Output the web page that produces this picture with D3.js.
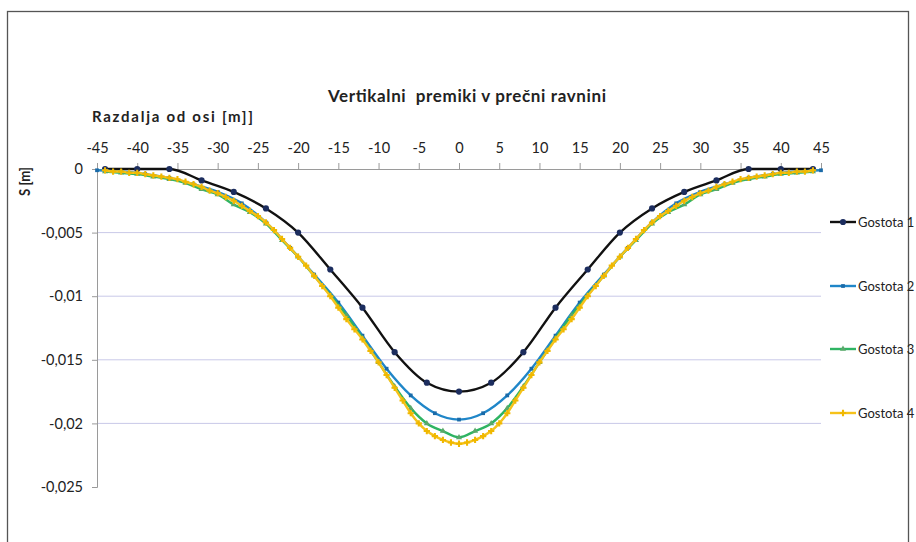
<!DOCTYPE html>
<html><head><meta charset="utf-8">
<script src="https://cdn.jsdelivr.net/npm/d3@7"></script>
<style>
html,body{margin:0;padding:0;background:#fff;overflow:hidden}
svg{display:block}
text{font-family:Lato,"Open Sans",sans-serif;fill:#222}
</style></head>
<body>
<svg id="c" width="916" height="542"></svg>
<script>
const title = "Vertikalni  premiki v prečni ravnini";
const xTitle = "Razdalja od osi [m]]";
const yTitle = "S [m]";
const xTicks = [-45,-40,-35,-30,-25,-20,-15,-10,-5,0,5,10,15,20,25,30,35,40,45];
const yTicks = [0,-0.005,-0.01,-0.015,-0.02,-0.025];
const yTickLabels = ["0","-0,005","-0,01","-0,015","-0,02","-0,025"];
const seriesNames = ["Gostota 1","Gostota 2","Gostota 3","Gostota 4"];

// Gostota 1: every 4 m
const x1 = [-44,-40,-36,-32,-28,-24,-20,-16,-12,-8,-4,0,4,8,12,16,20,24,28,32,36,40,44];
const s1 = [0,0,0,-0.0009,-0.0018,-0.0031,-0.005,-0.0079,-0.0109,-0.0144,-0.0168,-0.0175,
            -0.0168,-0.0144,-0.0109,-0.0079,-0.005,-0.0031,-0.0018,-0.0009,0,0,0];
// Gostota 2: every 3 m
const x2 = [-45,-42,-39,-36,-33,-30,-27,-24,-21,-18,-15,-12,-9,-6,-3,0,3,6,9,12,15,18,21,24,27,30,33,36,39,42,45];
const s2 = [-0.0001,-0.0002,-0.0004,-0.0007,-0.0012,-0.0018,-0.0027,-0.0042,-0.0062,-0.0083,-0.0105,-0.0131,-0.0157,-0.0178,-0.0192,-0.0197,
            -0.0192,-0.0178,-0.0157,-0.0131,-0.0105,-0.0083,-0.0062,-0.0042,-0.0027,-0.0018,-0.0012,-0.0007,-0.0004,-0.0002,-0.0001];
// Gostota 3: every 2 m
const x3 = [-44,-42,-40,-38,-36,-34,-32,-30,-28,-26,-24,-22,-20,-18,-16,-14,-12,-10,-8,-6,-4,-2,0,
            2,4,6,8,10,12,14,16,18,20,22,24,26,28,30,32,34,36,38,40,42,44];
const s3 = [-0.0002,-0.0003,-0.0004,-0.0006,-0.0008,-0.0011,-0.0016,-0.002,-0.0028,-0.0034,-0.0043,-0.0056,-0.0069,-0.0084,-0.0099,-0.0115,-0.0133,-0.0152,-0.0171,-0.0188,-0.02,-0.0206,-0.0211,
            -0.0206,-0.02,-0.0188,-0.0171,-0.0152,-0.0133,-0.0115,-0.0099,-0.0084,-0.0069,-0.0056,-0.0043,-0.0034,-0.0028,-0.002,-0.0016,-0.0011,-0.0008,-0.0006,-0.0004,-0.0003,-0.0002];
// Gostota 4: every 1 m
const x4 = [-44,-43,-42,-41,-40,-39,-38,-37,-36,-35,-34,-33,-32,-31,-30,-29,-28,-27,-26,-25,-24,-23,-22,-21,-20,-19,-18,-17,-16,-15,-14,-13,-12,-11,-10,-9,-8,-7,-6,-5,-4,-3,-2,-1,0,
            1,2,3,4,5,6,7,8,9,10,11,12,13,14,15,16,17,18,19,20,21,22,23,24,25,26,27,28,29,30,31,32,33,34,35,36,37,38,39,40,41,42,43,44];
const s4 = [-0.0001,-0.0002,-0.0002,-0.0003,-0.0003,-0.0004,-0.0005,-0.0006,-0.0007,-0.0008,-0.001,-0.0012,-0.0014,-0.0017,-0.0019,-0.0022,-0.0025,-0.0029,-0.0033,-0.0037,-0.0042,-0.0048,-0.0055,-0.0062,-0.0069,-0.0076,-0.0084,-0.0092,-0.01,-0.0109,-0.0118,-0.0126,-0.0134,-0.0143,-0.0152,-0.0162,-0.0172,-0.0182,-0.0192,-0.02,-0.0206,-0.021,-0.0213,-0.0215,-0.0216,
            -0.0215,-0.0213,-0.021,-0.0206,-0.02,-0.0192,-0.0182,-0.0172,-0.0162,-0.0152,-0.0143,-0.0134,-0.0126,-0.0118,-0.0109,-0.01,-0.0092,-0.0084,-0.0076,-0.0069,-0.0062,-0.0055,-0.0048,-0.0042,-0.0037,-0.0033,-0.0029,-0.0025,-0.0022,-0.0019,-0.0017,-0.0014,-0.0012,-0.001,-0.0008,-0.0007,-0.0006,-0.0005,-0.0004,-0.0003,-0.0003,-0.0002,-0.0002,-0.0001];

const svg = d3.select("#c");
// frame
svg.append("rect").attr("x",7.5).attr("y",11.5).attr("width",901).attr("height",560)
  .attr("fill","none").attr("stroke","#555").attr("stroke-width",1.3);

const x = d3.scaleLinear().domain([-45,45]).range([97,821]);
const y = d3.scaleLinear().domain([0,-0.025]).range([169,487]);

// gridlines
svg.append("g").selectAll("line").data(yTicks.filter(v=>v<0 && v>-0.025)).join("line")
  .attr("x1",97).attr("x2",821).attr("y1",d=>y(d)).attr("y2",d=>y(d))
  .attr("stroke","#c9c9e8").attr("stroke-width",1);

// y axis
const yAxis = d3.axisLeft(y).tickValues(yTicks).tickSize(5).tickPadding(9)
  .tickFormat((d,i)=>yTickLabels[i]);
const gy = svg.append("g").attr("transform","translate(97,0)").call(yAxis);
gy.select(".domain").attr("stroke","#9a9a9a");
gy.selectAll(".tick line").attr("stroke","#9a9a9a");
gy.selectAll(".tick text").attr("font-family","Lato,sans-serif").attr("font-size",14.5).attr("fill","#222");

// x axis (top)
const xAxis = d3.axisTop(x).tickValues(xTicks).tickSize(6).tickPadding(10).tickFormat(d=>d);
const gx = svg.append("g").attr("transform","translate(0,169)").call(xAxis);
gx.select(".domain").attr("stroke","#9a9a9a");
gx.selectAll(".tick line").attr("stroke","#9a9a9a");
gx.selectAll(".tick text").attr("font-family","Lato,sans-serif").attr("font-size",14.5).attr("fill","#222");

// titles
svg.append("text").attr("x",328).attr("y",102)
  .attr("font-size",17).attr("font-weight","bold").style("white-space","pre")
  .attr("textLength",278).attr("lengthAdjust","spacing").text(title);
svg.append("text").attr("x",92).attr("y",122).attr("font-size",15).attr("font-weight","bold")
  .attr("textLength",161).attr("lengthAdjust","spacing").text(xTitle);
svg.append("text").attr("transform","translate(30,196) rotate(-90)")
  .attr("font-size",14.5).attr("font-weight","bold")
  .attr("textLength",29).attr("lengthAdjust","spacingAndGlyphs").text(yTitle);

const series = [
  {name:seriesNames[0], xs:x1, ys:s1, line:"#111111", mark:"#1c2d5e", sym:d3.symbolCircle, size:30},
  {name:seriesNames[1], xs:x2, ys:s2, line:"#1f86c8", mark:"#1a6aa8", sym:d3.symbolSquare, size:14},
  {name:seriesNames[2], xs:x3, ys:s3, line:"#2fb463", mark:"#5aa86a", sym:d3.symbolTriangle, size:16},
  {name:seriesNames[3], xs:x4, ys:s4, line:"#f6c21a", mark:"#f0b800", sym:d3.symbolCross, size:22}
];

const line = d3.line().x(d=>x(d[0])).y(d=>y(d[1])).curve(d3.curveMonotoneX);
series.forEach(s=>{
  const pts = s.xs.map((v,k)=>[v,s.ys[k]]);
  const g = svg.append("g");
  g.append("path").attr("d",line(pts)).attr("fill","none").attr("stroke",s.line).attr("stroke-width",2.4);
  g.selectAll("path.m").data(pts).join("path").attr("class","m")
    .attr("transform",d=>`translate(${x(d[0])},${y(d[1])})`)
    .attr("d",d3.symbol().type(s.sym).size(s.size)).attr("fill",s.mark);
});

// legend
const legY = [222,286,349,413];
series.forEach((s,i)=>{
  const g = svg.append("g").attr("transform",`translate(830,${legY[i]})`);
  g.append("line").attr("x1",0).attr("x2",26).attr("y1",0).attr("y2",0).attr("stroke",s.line).attr("stroke-width",2.4);
  g.append("path").attr("transform","translate(13,0)").attr("d",d3.symbol().type(s.sym).size(s.size)).attr("fill",s.mark);
  g.append("text").attr("x",28).attr("y",4.5).attr("font-size",13).text(s.name);
});
</script>
</body></html>
